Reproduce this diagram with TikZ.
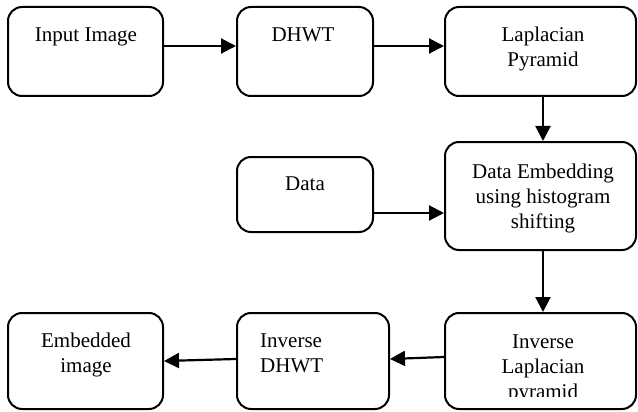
\documentclass[tikz,border=0pt]{standalone}
\usepackage{fontspec}
\setmainfont{Liberation Serif}
\usetikzlibrary{arrows.meta}
\begin{document}
\begin{tikzpicture}[x=1pt,y=-1pt,
 box/.style={draw,line width=2pt,rounded corners=14pt,inner sep=0pt},
 lbl/.style={font=\fontsize{21}{25}\selectfont,align=center,inner sep=0pt,anchor=base},
 arr/.style={line width=2.2pt,-{Triangle[length=15pt,width=15pt]}}]
\useasboundingbox (0,0) rectangle (638,412);
% boxes
\node[box,minimum width=155pt,minimum height=89pt] (b1) at (85.5,51.5) {};
\node[box,minimum width=136pt,minimum height=89pt] (b2) at (305,51.5) {};
\node[box,minimum width=191pt,minimum height=89pt] (b3) at (540.5,51.5) {};
\node[box,minimum width=136pt,minimum height=75pt] (b4) at (305,194.5) {};
\node[box,minimum width=191pt,minimum height=108pt] (b5) at (540.5,196) {};
\node[box,minimum width=155pt,minimum height=96pt] (b6) at (85.5,361) {};
\node[box,minimum width=152pt,minimum height=96pt] (b7) at (313,361) {};
\node[box,minimum width=191pt,minimum height=96pt] (b8) at (540.5,361) {};
% texts (base anchor = baseline of last line)
\node[lbl] (t1) at (86,42) {Input Image};
\node[lbl] (t2) at (303,42) {DHWT};
\node[lbl] (t3) at (543,67) {Laplacian\\Pyramid};
\node[lbl] (t4) at (305,190) {Data};
\node[lbl] (t5) at (543,228) {Data Embedding\\using histogram\\shifting};
\node[lbl] (t6) at (86,372) {Embedded\\image};
\node[lbl,anchor=base west,align=left] (t7) at (260,372) {Inverse\\DHWT};
\begin{scope}
\clip (445,313) rectangle (636,396);
\node[lbl] (t8) at (543,398) {Inverse\\Laplacian\\pyramid};
\end{scope}
% arrows
\draw[arr] ([yshift=5.5pt]b1.east) -- ([yshift=5.5pt]b2.west);
\draw[arr] ([yshift=5.5pt]b2.east) -- ([yshift=5.5pt]b3.west);
\draw[arr] ([xshift=2.5pt]b3.south) -- ([xshift=2.5pt]b5.north);
\draw[arr] ([yshift=-18.5pt]b4.east) -- ([yshift=-17pt]b5.west);
\draw[arr] ([xshift=2.5pt]b5.south) -- ([xshift=2.5pt]b8.north);
\draw[arr] ([yshift=4pt]b8.west) -- ([yshift=2pt]b7.east);
\draw[arr] ([yshift=2pt]b7.west) -- ([yshift=0pt]b6.east);
\end{tikzpicture}
\end{document}
